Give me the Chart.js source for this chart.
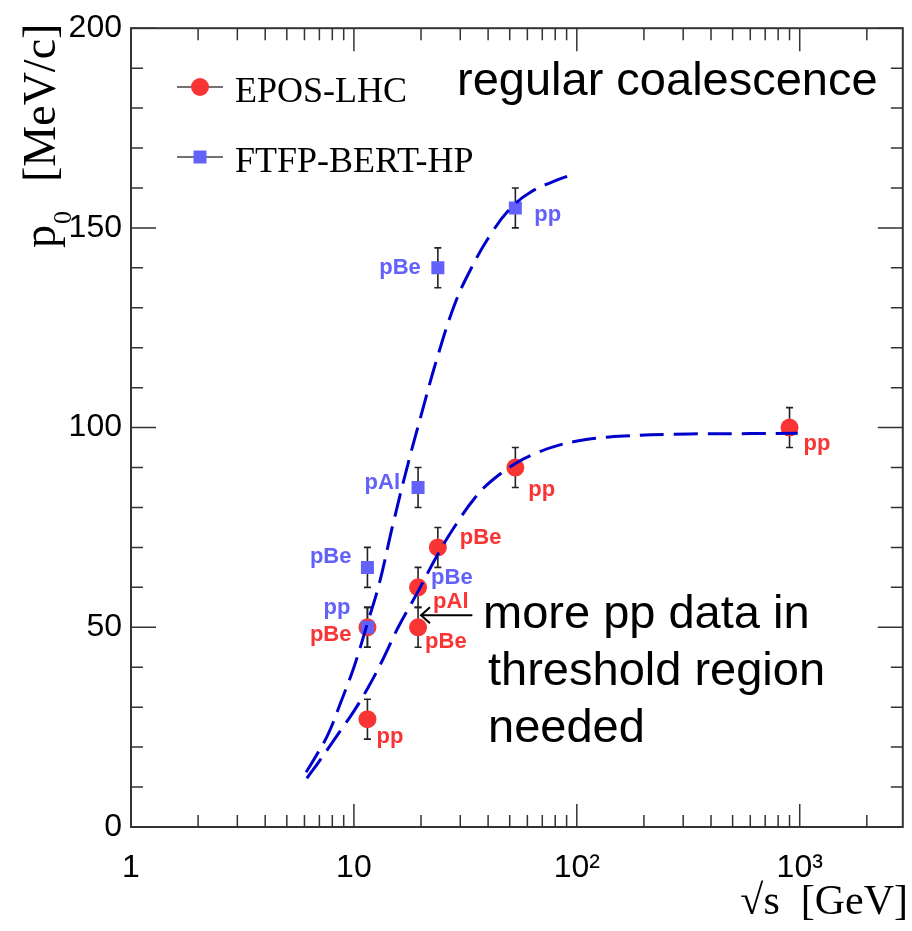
<!DOCTYPE html>
<html>
<head>
<meta charset="utf-8">
<script src="https://cdn.jsdelivr.net/npm/chart.js@4"></script>
<style>
  html,body{margin:0;padding:0;background:#fff;}
</style>
</head>
<body>
<canvas id="chart" width="912" height="931"></canvas>
<script>
// EPOS-LHC points
const eposX=[11.5,11.5,19.4,19.4,23.8,53,900]
const eposY=[27,50,50,60,70,90,100]
const eposErr=[5,5,5,5,5,5,5]
const eposLabels=['pp','pBe','pBe','pAl','pBe','pp','pp']

// FTFP-BERT-HP points
const ftfpX=[11.5,11.5,19.4,23.8,53]
const ftfpY=[50,65,85,140,155]
const ftfpErr=[5,5,5,5,5]
const ftfpLabels=['pp','pBe','pAl','pBe','pp']

// dashed fit curves
const curveHiX=[6.1,6.8,7.7,8.7,10,11.5,13,15,17.5,20,23.4,28.3,33.6,41.2,50.6,62.2,81.8,98.7]
const curveHiY=[13.7,18,23.5,31,40,51,61,76,91,103,116.6,130.8,139.9,148.5,155,159,162,163.6]
const curveLoX=[6.15,7,8.55,10,11.6,13.5,15.8,19.4,23.9,29.3,35,41.1,53,65,81.8,110,163,320,600,980]
const curveLoY=[12.2,16.5,23.5,29,35,42,50,59,68.5,76.5,82.5,86.5,91,93.5,95.5,97,97.9,98.4,98.5,98.6]

const xTicks=[1,10,100,1000]
const xTickLabels=['1','10','10²','10³']

const RED='#f93434'
const BLUE='#6262fa'
const LINE='#0000cc'

const pts=(xs,ys)=>xs.map((x,i)=>({x:x,y:ys[i]}))

// label placement next to the markers (pixel offsets)
const eposLabelPos=[[9,18,'left'],[-16,8,'right'],[7,15,'left'],[15,15,'left'],[22,-9,'left'],[13,22,'left'],[14,16,'left']]
const ftfpLabelPos=[[-17,-19,'right'],[-16,-10,'right'],[-18,-5,'right'],[-17,0,'right'],[19,7,'left']]

const errorBars={
  id:'errorBars',
  beforeDatasetsDraw(chart){
    const {ctx,scales:{x,y}}=chart
    ctx.save()
    ctx.strokeStyle='#222'
    ctx.lineWidth=1.6
    const draw=(xs,ys,es)=>{
      xs.forEach((v,i)=>{
        const px=x.getPixelForValue(v)
        const top=y.getPixelForValue(ys[i]+es[i])
        const bot=y.getPixelForValue(ys[i]-es[i])
        ctx.beginPath()
        ctx.moveTo(px,top);ctx.lineTo(px,bot)
        ctx.moveTo(px-3.5,top);ctx.lineTo(px+3.5,top)
        ctx.moveTo(px-3.5,bot);ctx.lineTo(px+3.5,bot)
        ctx.stroke()
      })
    }
    draw(eposX,eposY,eposErr)
    draw(ftfpX,ftfpY,ftfpErr)
    ctx.restore()
  }
}

const annotations={
  id:'annotations',
  afterDatasetsDraw(chart){
    const {ctx,scales:{x,y}}=chart
    ctx.save()
    ctx.font='bold 22px "Liberation Sans", Arial, sans-serif'
    ctx.textBaseline='middle'
    const put=(xs,ys,labels,pos,color)=>{
      ctx.fillStyle=color
      labels.forEach((t,i)=>{
        const p=pos[i]
        ctx.textAlign=p[2]
        ctx.fillText(t,x.getPixelForValue(xs[i])+p[0],y.getPixelForValue(ys[i])+p[1])
      })
    }
    put(eposX,eposY,eposLabels,eposLabelPos,RED)
    put(ftfpX,ftfpY,ftfpLabels,ftfpLabelPos,BLUE)
    // extra blue label beside the 19.4 GeV pAl point
    ctx.fillStyle=BLUE
    ctx.textAlign='left'
    ctx.fillText('pBe',x.getPixelForValue(19.4)+13,y.getPixelForValue(60)-9)

    // arrow
    const ay=y.getPixelForValue(53)
    const ax0=x.getPixelForValue(34)
    const ax1=x.getPixelForValue(20)
    ctx.strokeStyle='#000'
    ctx.lineWidth=2
    ctx.beginPath()
    ctx.moveTo(ax0,ay);ctx.lineTo(ax1,ay)
    ctx.moveTo(ax1+9,ay-8);ctx.lineTo(ax1,ay);ctx.lineTo(ax1+9,ay+8)
    ctx.stroke()

    // text notes
    ctx.fillStyle='#000'
    ctx.textAlign='left'
    ctx.textBaseline='alphabetic'
    ctx.font='47px "Liberation Sans", Arial, sans-serif'
    ctx.fillText('regular coalescence',457,95)
    ctx.fillText('more pp data in',483,628)
    ctx.fillText('threshold region',488,685)
    ctx.fillText('needed',488,742)

    // legend
    ctx.strokeStyle='#444'
    ctx.lineWidth=1.5
    ctx.beginPath()
    ctx.moveTo(177,87);ctx.lineTo(223,87)
    ctx.moveTo(177,157);ctx.lineTo(223,157)
    ctx.stroke()
    ctx.fillStyle=RED
    ctx.beginPath();ctx.arc(200,87,9,0,Math.PI*2);ctx.fill()
    ctx.fillStyle=BLUE
    ctx.fillRect(193.5,150.5,13,13)
    ctx.fillStyle='#000'
    ctx.font='36px "Liberation Serif", "Times New Roman", serif'
    ctx.fillText('EPOS-LHC',235,102)
    ctx.fillText('FTFP-BERT-HP',235,172)

    ctx.restore()
  }
}

const frame={
  id:'frame',
  afterDraw(chart){
    const {ctx,chartArea:a,scales:{x,y}}=chart
    ctx.save()
    ctx.strokeStyle='#333'
    ctx.lineWidth=2
    ctx.strokeRect(a.left,a.top,a.width,a.height)
    ctx.lineWidth=1.5
    ctx.beginPath()
    for(let v=0;v<=200;v+=10){
      const py=y.getPixelForValue(v)
      const len=v%50===0?25:12
      ctx.moveTo(a.left,py);ctx.lineTo(a.left+len,py)
      ctx.moveTo(a.right,py);ctx.lineTo(a.right-len,py)
    }
    for(let d=1;d<=1000;d*=10){
      for(let m=1;m<10;m++){
        const v=d*m
        if(v>=x.max)break
        const px=x.getPixelForValue(v)
        const len=m===1?23:12
        ctx.moveTo(px,a.bottom);ctx.lineTo(px,a.bottom-len)
        ctx.moveTo(px,a.top);ctx.lineTo(px,a.top+len)
      }
    }
    ctx.stroke()

    // axis titles
    ctx.fillStyle='#000'
    ctx.textAlign='right'
    ctx.textBaseline='alphabetic'
    ctx.font='42px "Liberation Serif", "Times New Roman", serif'
    ctx.fillText('√s  [GeV]',908,914)

    ctx.translate(55,248)
    ctx.rotate(-Math.PI/2)
    ctx.textAlign='left'
    ctx.font='46px "Liberation Serif", "Times New Roman", serif'
    ctx.fillText('p',0,0)
    ctx.font='26px "Liberation Serif", "Times New Roman", serif'
    ctx.fillText('0',24,16)
    ctx.font='46px "Liberation Serif", "Times New Roman", serif'
    ctx.fillText('[MeV/c]',66,0)
    ctx.restore()
  }
}

new Chart(document.getElementById('chart'),{
  type:'scatter',
  data:{
    datasets:[
      {
        label:'FTFP fit',
        data:pts(curveHiX,curveHiY),
        showLine:true,
        borderColor:LINE,
        borderWidth:3,
        borderDash:[24,10],
        pointRadius:0,
        tension:0.4
      },
      {
        label:'EPOS fit',
        data:pts(curveLoX,curveLoY),
        showLine:true,
        borderColor:LINE,
        borderWidth:3,
        borderDash:[24,10],
        pointRadius:0,
        tension:0.4
      },
      {
        label:'FTFP-BERT-HP',
        data:pts(ftfpX,ftfpY),
        pointStyle:'rect',
        pointRadius:9.2,
        borderWidth:0,
        backgroundColor:BLUE,
        borderColor:BLUE
      },
      {
        label:'EPOS-LHC',
        data:pts(eposX,eposY),
        pointStyle:'circle',
        pointRadius:9,
        borderWidth:0,
        backgroundColor:RED,
        borderColor:RED
      }
    ]
  },
  options:{
    responsive:false,
    animation:false,
    layout:{padding:{top:26,right:3,left:0,bottom:0}},
    plugins:{legend:{display:false},tooltip:{enabled:false}},
    scales:{
      x:{
        type:'logarithmic',
        min:1,
        max:2900,
        grid:{display:false,drawTicks:false},
        border:{display:false},
        afterBuildTicks:(s)=>{s.ticks=xTicks.map(v=>({value:v}))},
        afterFit:(s)=>{s.height=104},
        ticks:{
          autoSkip:false,
          maxRotation:0,
          padding:22,
          color:'#000',
          font:{family:'"Liberation Sans", Arial, sans-serif',size:32},
          callback:(v)=>{const i=xTicks.indexOf(v);return i<0?'':xTickLabels[i]}
        }
      },
      y:{
        min:0,
        max:200,
        grid:{display:false,drawTicks:false},
        border:{display:false},
        afterFit:(s)=>{s.width=131},
        ticks:{
          stepSize:50,
          padding:9,
          color:'#000',
          font:{family:'"Liberation Sans", Arial, sans-serif',size:32}
        }
      }
    }
  },
  plugins:[errorBars,annotations,frame]
})
</script>
</body>
</html>
